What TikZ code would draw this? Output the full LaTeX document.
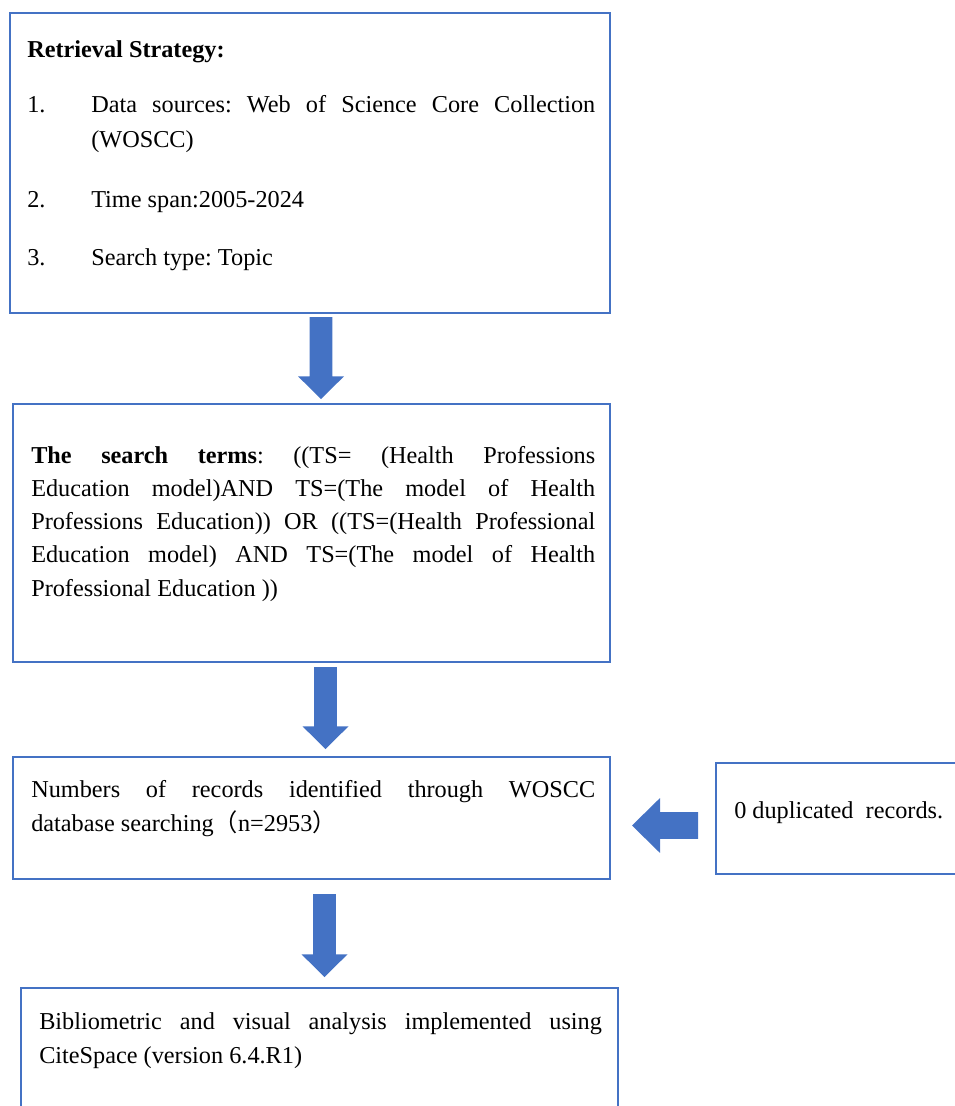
\documentclass[tikz,border=0pt]{standalone}
\usepackage{fontspec}
\setmainfont{Liberation Serif}
\newfontfamily\cjk{Noto Sans CJK SC}
\usetikzlibrary{calc}
\definecolor{officeblue}{HTML}{4472C4}
\frenchspacing
\newcommand\blockdown[2]{%
  \fill[blockarrow] let \p1=(#1), \p2=(#2) in
    (\x1-8.6pt,\y1) -- (\x1+8.6pt,\y1) -- (\x1+8.6pt,\y2+17pt) --
    (\x1+17.25pt,\y2+17pt) -- (\x1,\y2) -- (\x1-17.25pt,\y2+17pt) --
    (\x1-8.6pt,\y2+17pt) -- cycle;}
\begin{document}
\begin{tikzpicture}[x=0.75pt,y=-0.75pt,
  box/.style={draw=officeblue,line width=1.7pt,rectangle,inner sep=0pt,outer sep=0pt,anchor=north west},
  txt/.style={anchor=base west,inner sep=0pt,font=\fontsize{18.2}{25}\selectfont},
  blockarrow/.style={fill=officeblue}]
\useasboundingbox (0,0) rectangle (955,1106);

% boxes
\node[box,minimum width=450pt,minimum height=225pt] (b1) at (10,13) {};
\node[box,minimum width=447.75pt,minimum height=193.5pt] (b2) at (13,404) {};
\node[box,minimum width=447.75pt,minimum height=91.5pt] (b3) at (13,757) {};
\node[box,minimum width=183pt,minimum height=83.25pt] (b4) at (716,763) {};
\node[box,minimum width=447.75pt,minimum height=97.5pt] (b5) at (21,988) {};

% box 1 text
\node[txt] (t1h) at (27,58) {\textbf{Retrieval Strategy:}};
\node[txt] (t1n1) at (27,113) {1.};
\node[txt] (t1a) at (91,113) {\makebox[378pt][s]{Data sources: Web of Science Core Collection}};
\node[txt] (t1b) at (91,147) {(WOSCC)};
\node[txt] (t1n2) at (27,207) {2.};
\node[txt] (t1c) at (91,207) {Time span:2005-2024};
\node[txt] (t1n3) at (27,265) {3.};
\node[txt] (t1d) at (91,265) {Search type: Topic};

% box 2 text
\node[txt] (t2a) at (31,463) {\makebox[423pt][s]{\textbf{The search terms}: ((TS= (Health Professions}};
\node[txt] (t2b) at (31,496) {\makebox[423pt][s]{Education model)AND TS=(The model of Health}};
\node[txt] (t2c) at (31,529) {\makebox[423pt][s]{Professions Education)) OR ((TS=(Health Professional}};
\node[txt] (t2d) at (31,562) {\makebox[423pt][s]{Education model) AND TS=(The model of Health}};
\node[txt] (t2e) at (31,596) {Professional Education ))};

% box 3 text
\node[txt] (t3a) at (31,797) {\makebox[423pt][s]{Numbers of records identified through WOSCC}};
\node[txt] (t3b) at (31,831) {database searching{\cjk （}n=2953{\cjk ）}};

% box 4 text
\node[txt] (t4) at (734,818) {0 duplicated\ \ records.};

% box 5 text
\node[txt] (t5a) at (39,1029) {\makebox[422pt][s]{Bibliometric and visual analysis implemented using}};
\node[txt] (t5b) at (39,1063) {CiteSpace (version 6.4.R1)};

% block arrows
\coordinate (a1top) at ($(b1.south)+(11,4)$);
\coordinate (a1tip) at ($(b2.north)+(9.5,-5)$);
\coordinate (a2top) at ($(b2.south)+(14,5)$);
\coordinate (a2tip) at ($(b3.north)+(14,-8)$);
\coordinate (a3top) at ($(b3.south)+(13,15)$);
\coordinate (a3tip) at ($(b5.north)+(4,-11)$);
\blockdown{a1top}{a1tip}
\blockdown{a2top}{a2tip}
\blockdown{a3top}{a3tip}

\coordinate (a4tail) at ($(b4.west)+(-18,7)$);
\coordinate (a4tip) at ($(b3.east)+(22,7)$);
\fill[blockarrow] let \p1=(a4tail), \p2=(a4tip) in
  (\x1,\y1+10.1pt) -- (\x1,\y1-10.1pt) -- (\x2+21pt,\y1-10.1pt) --
  (\x2+21pt,\y1-20.6pt) -- (\x2,\y1) -- (\x2+21pt,\y1+20.6pt) --
  (\x2+21pt,\y1+10.1pt) -- cycle;
\end{tikzpicture}
\end{document}
